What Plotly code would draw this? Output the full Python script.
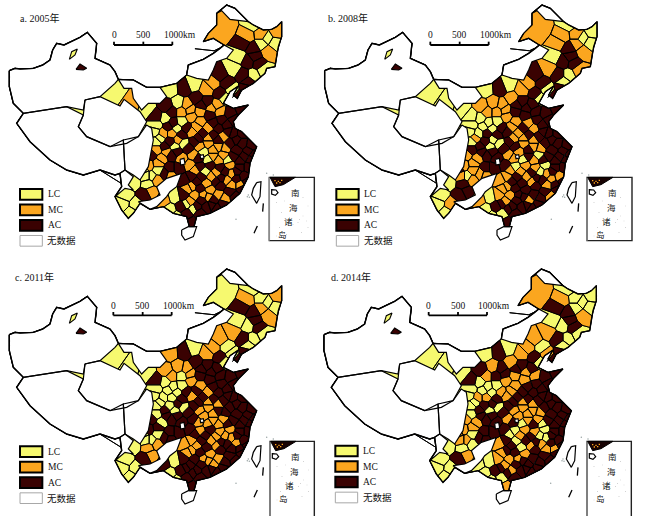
import plotly.graph_objects as go

# ---- panel content ----
PANEL_TITLES = ["a. 2005年", "b. 2008年", "c. 2011年", "d. 2014年"]
LEGEND_LABELS = ["LC", "MC", "AC", "无数据"]
SCALE_LABELS = ["0", "500", "1000km"]
SCS_LABELS = ["南", "海", "诸", "岛"]

# prefecture sites, with class L / M / A per year
SITE_X = [675,760,730,785,760,805,800,830,825,715,
          745,775,700,660,640,680,730,760,790,740,
          720,695,660,580,555,510,535,620,590,500,
          620,650,570,545,440,470,495,520,545,575,
          600,630,660,690,725,600,640,680,465,490,
          515,545,575,610,640,670,700,725,470,495,
          525,550,585,625,655,690,725,755,455,485,
          515,545,580,610,640,670,700,735,760,445,
          475,510,535,570,600,630,660,690,720,745,
          440,470,510,575,605,635,665,695,730,400,
          455,565,600,630,660,695,725,435,490,525,
          570,605,640,675,705,510,545,580,620,650,
          530,560,600,575,375,410,365,395,395,345,
          515,560,605,635,665,625,655,700,505,530,
          560,590,595,625,655,685,710,480,510,535,
          565,600,640,675,710,745,470,500,530,595,
          625,655,685,720,750,585,615,650,675,710,
          555,590,620,650,680,710,575,610,740,430,
          550,585,625,655,690,720,590,635,670,560,
          470,475,455,495,445,675,745,765,785,740]
SITE_Y = [85,70,128,105,145,155,115,95,130,170,
          185,190,205,225,250,250,225,225,210,265,
          290,270,280,255,265,268,310,270,295,320,
          305,315,330,335,325,350,355,370,365,350,
          335,345,335,340,325,365,370,375,395,400,
          400,405,395,400,405,410,400,400,425,440,
          440,430,425,430,440,430,430,435,465,475,
          465,475,465,455,470,465,470,470,465,495,
          510,505,505,495,500,495,505,495,500,500,
          530,540,525,530,530,530,535,520,530,545,
          575,565,565,570,555,555,565,585,600,590,
          605,600,600,595,590,630,620,625,620,625,
          650,640,640,670,585,615,610,640,310,275,
          335,315,315,325,360,385,385,360,380,385,
          385,380,415,415,420,395,420,415,425,420,
          445,440,450,445,450,455,450,455,455,475,
          480,480,480,485,478,510,515,518,515,515,
          540,545,550,545,540,535,560,585,545,505,
          585,585,590,585,575,555,620,615,612,612,
          375,490,530,520,550,295,245,170,130,110]
CLASS_2005 = ("MLAMAMLMLL" "AALAMAALLA" "ALALALLMAA" "AMMMLALALM" "MAMAAMAALM"
              "MAMAAMAALA" "LLAMMAAAAM" "AMMLMMAAAM" "LAAMAAAMAA" "LMMAAMAMAL"
              "MMAMAMAAML" "MAAMALALAA" "LAAALLLLML"
              "AMAMAMAAAL" "AMAMAAALAM" "AMMMAAMMAA" "LMLAAMLMAA" "AAMAMAMMAL" "AMMMAMAAAL" "LMLALLAALM")
CLASS_2008 = ("MLMMAMLLLL" "AAMAMAALMA" "ALALALMMMM" "AAMMLLLLLM" "AAAAAMMALL"
              "AAAMAAAALA" "LLAMMAAAMM" "AAMMALAAAM" "MAAALMMLAA" "MMMMAMAMML"
              "AMAAAMAAML" "MAMAMLAAAA" "LLAALMLLLL"
              "MMAAAAMALL" "AMMMMAAMAL" "AAAMAAAAAM" "LMAAAMMALA" "MAAMAMMAAA" "MMAAAAAAAA" "LMLMALLAMM")
CLASS_2011 = ("LLALAMLMLL" "LAMMMLALLA" "ALALAMMMAM" "AAMLLALLLM" "AAAAAMAALL"
              "LAMAAAAALA" "LLAMAAAAAL" "AAAMMMAAAA" "LAAAMAMMAA" "LMAMAMAMAL"
              "MMAMAAAAAL" "AAMAALAAAA" "LAAALLLLLL"
              "MMAAAMAALL" "AAAMMAALLA" "AMMAAALAAM" "MMAAAAAMMA" "MMAMAMMMAL" "AAMMAAAAAA" "LALAMLLAMM")
CLASS_2014 = ("MLALAMLLLL" "LAMMMLALLA" "AMALALMMMA" "AAAALALLLM" "MMMAAMAALM"
              "MAMAAAAALA" "LLAMMAAAMM" "AAMMMMAAAM" "LAAALMMLAA" "MLAALAALAL"
              "MMAMAMAALL" "MAAAALAAAA" "LLAMLLLLLL"
              "MAAMAAAALL" "MMAMMAALAA" "AMMMAALAAA" "LALAALMALA" "MALMMAAMAM" "MMAAAMMAAA" "LMMALLLALM")
PANEL_CLASSES = [CLASS_2005, CLASS_2008, CLASS_2011, CLASS_2014]

# outlines (crop units: 3 per pixel)
MAINLAND = [(28,212),(45,205),(60,207),(100,205),(128,195),(150,180),(158,150),(170,130),(192,135),(215,125),(240,112),(262,97),
            (278,115),(290,130),(285,175),(310,185),(330,195),(345,215),(355,238),(400,240),(440,262),(480,262),(530,250),(560,225),
            (565,195),(610,178),(640,160),(660,145),(672,135),(640,115),(610,125),(625,100),(650,75),(650,40),(680,15),(705,25),
            (720,40),(745,65),(760,75),(790,90),(815,88),(830,80),(845,65),(845,110),(835,140),(830,165),(825,200),(800,205),
            (795,220),(760,250),(725,270),(712,295),(700,285),(715,258),(690,275),(670,310),(700,325),(745,315),(715,345),(700,365),
            (705,385),(725,395),(740,410),(770,440),(760,465),(750,490),(745,530),(720,580),(680,615),(630,640),(590,650),(582,680),
            (568,680),(560,650),(520,640),(490,620),(450,628),(420,610),(400,640),(385,655),(365,630),(345,590),(365,560),(360,520),
            (345,525),(300,510),(250,525),(200,510),(150,480),(90,425),(50,370),(70,340),(60,330),(40,310),(28,260)]
NO_DATA_AREAS = [
    [(28,212),(45,205),(60,207),(100,205),(128,195),(150,180),(158,150),(170,130),(192,135),(215,125),(240,112),(262,97),(278,115),(290,130),(285,175),(310,185),(330,195),(345,215),(355,238),(345,250),(300,290),(255,300),(250,330),(200,320),(70,340),(60,330),(40,310),(28,260)],
    [(70,340),(200,320),(250,345),(235,380),(260,410),(330,440),(370,420),(375,510),(360,520),(345,525),(300,510),(250,525),(200,510),(150,480),(90,425),(50,370)],
    [(255,300),(300,290),(360,318),(372,298),(420,335),(440,365),(415,410),(380,430),(330,440),(260,410),(235,380),(250,345)],
    [(370,420),(415,410),(440,375),(455,385),(460,420),(445,500),(420,540),(400,525),(375,510)],
    [(360,520),(375,510),(400,530),(385,555),(400,570),(375,565),(345,590),(365,560)],
    [(415,605),(450,600),(480,585),(470,560),(500,535),(545,520),(530,560),(510,575),(500,590),(470,620),(450,628),(420,610)],
    [(355,238),(400,240),(440,262),(480,262),(500,290),(480,310),(445,310),(425,330),(400,295),(395,265),(372,265)],
    [(560,225),(565,195),(610,178),(640,160),(660,145),(672,135),(700,150),(680,175),(650,185),(640,210),(625,240),(590,235)],
    [(650,40),(680,15),(705,25),(720,40),(745,65),(720,62),(690,58),(665,32)],
    [(540,478),(552,475),(555,492),(542,495)],
    [(600,466),(610,464),(612,474),(602,476)],
    [(770,548),(783,545),(780,590),(770,610),(755,585),(760,565)],
    [(545,690),(565,680),(590,680),(580,710),(555,720),(545,705)],
]
LAKE_L = [(208,178),(215,155),(232,147),(225,165)]
LAKE_A = [(228,208),(240,192),(260,205),(250,210)]
SEA_DASHES = [[(790,610),(788,635)],[(772,678),(762,700)]]
SEA_DOTS_X = [745,748,708,800,820,742]
SEA_DOTS_Y = [585,592,658,520,525,590]

# inset wedge and its dots, relative to the inset box's top-left corner
INSET_LAND = [(2,0),(78,0),(42,22),(17,28)]
INSET_LAND_DOTS = [(15,8),(25,10),(35,7),(20,15),(30,14)]
INSET_ISLAND = [(7,37),(20,38),(26,46),(18,54),(7,50)]
INSET_DOTS = [(20,75),(45,70),(70,80),(100,60),(115,85),(35,105),(60,120),(90,125),(100,115),(110,130),(30,150),(70,140),(85,135),(115,150),(50,170),(95,165),(20,175)]
INSET_LABELS_POS = [(77,46),(72,93),(57,133),(40,172)]

COLORS = {"L": "#F6F96F", "M": "#FBA61F", "A": "#3A0202"}

# per-panel placement (crop units)
MAP_SHIFT = [(0,0),(-20,0),(0,18),(-22,18)]
TITLE_POS = [(53,55),(13,55),(38,57),(22,58)]
LEGEND_POS = [(60,567),(43,567),(60,565),(40,563)]
SCALE_POS = [(342,135),(325,135),(340,172),(320,172)]
INSET_BOX = [(808,532,943,722),(795,532,930,722),(810,550,943,790),(795,550,928,790)]
ORIGIN_PX = [(0,0),(322,0),(0,258),(322,258)]
FONT = "Liberation Serif, Noto Sans CJK SC"


def clip(poly, a, b, c):
    out = []
    n = len(poly)
    for i in range(n):
        p, q = poly[i], poly[(i + 1) % n]
        dp, dq = a*p[0]+b*p[1]-c, a*q[0]+b*q[1]-c
        if dp <= 0:
            out.append(p)
        if (dp < 0 < dq) or (dq < 0 < dp):
            t = dp / (dp - dq)
            out.append((p[0]+t*(q[0]-p[0]), p[1]+t*(q[1]-p[1])))
    return out


CELLS = []
for i, (xi, yi) in enumerate(zip(SITE_X, SITE_Y)):
    cell = list(MAINLAND)
    for j, (xj, yj) in enumerate(zip(SITE_X, SITE_Y)):
        if i == j:
            continue
        a, b = xj-xi, yj-yi
        c = (xj*xj+yj*yj-xi*xi-yi*yi)/2
        cell = clip(cell, a, b, c)
        if not cell:
            break
    CELLS.append(cell)


def path(polys, dx, dy):
    xs, ys = [], []
    for poly in polys:
        xs += [p[0]+dx for p in poly] + [poly[0][0]+dx, None]
        ys += [p[1]+dy for p in poly] + [poly[0][1]+dy, None]
    return xs, ys


fig = go.Figure()
W, H = 645, 516
layout = dict(width=W, height=H, margin=dict(l=0, r=0, t=0, b=0), plot_bgcolor="white",
              paper_bgcolor="white", showlegend=False)
shapes, annos = [], []

for k in range(4):
    ox, oy = ORIGIN_PX[k]
    s = "" if k == 0 else str(k+1)
    layout["xaxis"+s] = dict(domain=[ox/W, (ox+322)/W], range=[0, 966], visible=False, fixedrange=True, anchor="y"+s)
    layout["yaxis"+s] = dict(domain=[1-(oy+258)/H, 1-oy/H], range=[774, 0], visible=False, fixedrange=True, anchor="x"+s)
    xr, yr = "x"+s, "y"+s
    dx, dy = MAP_SHIFT[k]

    def fill(polys, color, lw=1.0, line="black"):
        xs, ys = path(polys, dx, dy)
        fig.add_trace(go.Scatter(x=xs, y=ys, mode="lines", fill="toself", fillcolor=color,
                                 line=dict(color=line, width=lw), hoverinfo="skip", xaxis=xr, yaxis=yr))

    fill([MAINLAND], "white")
    for code in "LMA":
        polys = [c for c, v in zip(CELLS, PANEL_CLASSES[k]) if v == code and c]
        fill(polys, COLORS[code], 1.0)
    fill(NO_DATA_AREAS, "white", 1.2)
    fill([LAKE_L], COLORS["L"], 1.1)
    fill([LAKE_A], COLORS["A"], 1.1)
    xs, ys = path([MAINLAND], dx, dy)
    fig.add_trace(go.Scatter(x=xs, y=ys, mode="lines", line=dict(color="black", width=1.4),
                             hoverinfo="skip", xaxis=xr, yaxis=yr))
    for d in SEA_DASHES:
        fig.add_trace(go.Scatter(x=[p[0]+dx for p in d], y=[p[1]+dy for p in d], mode="lines",
                                 line=dict(color="black", width=1.3), hoverinfo="skip", xaxis=xr, yaxis=yr))
    fig.add_trace(go.Scatter(x=[v+dx for v in SEA_DOTS_X], y=[v+dy for v in SEA_DOTS_Y], mode="markers",
                             marker=dict(color="#9aa5a5", size=1.5), hoverinfo="skip", xaxis=xr, yaxis=yr))

    # title
    tx, ty = TITLE_POS[k]
    annos.append(dict(x=tx, y=ty, xref=xr, yref=yr, text=PANEL_TITLES[k], showarrow=False, xanchor="left",
                      font=dict(family=FONT, size=10, color="#111")))

    # scale bar
    sx, sy = SCALE_POS[k]
    ticks = [0, 88, 175]
    xs = [sx, sx, None, sx+88, sx+88, None, sx+175, sx+175, None, sx, sx+175]
    ys = [sy-10, sy, None, sy-10, sy, None, sy-10, sy, None, sy, sy]
    fig.add_trace(go.Scatter(x=xs, y=ys, mode="lines", line=dict(color="black", width=1.8),
                             hoverinfo="skip", xaxis=xr, yaxis=yr))
    for t, lab, anc in zip(ticks, SCALE_LABELS, ["center", "center", "left"]):
        annos.append(dict(x=sx+t-(32 if anc == "left" else 0), y=sy-29, xref=xr, yref=yr, text=lab, showarrow=False,
                          xanchor=anc, font=dict(family=FONT, size=9.5, color="#111")))

    # legend
    lx, ly = LEGEND_POS[k]
    for i, (lab, key) in enumerate(zip(LEGEND_LABELS, ["L", "M", "A", None])):
        y0 = ly + i*46.5
        shapes.append(dict(type="rect", xref=xr, yref=yr, x0=lx, x1=lx+67, y0=y0, y1=y0+32,
                           fillcolor=COLORS[key] if key else "white",
                           line=dict(color="black" if key else "#a8a8a8", width=2 if key else 1)))
        annos.append(dict(x=lx+(78 if key else 76), y=y0+16, xref=xr, yref=yr, text=lab, showarrow=False, xanchor="left",
                          font=dict(family=FONT, size=9.5, color="#111")))

    # South China Sea inset
    bx0, by0, bx1, by1 = INSET_BOX[k]
    shapes.append(dict(type="rect", xref=xr, yref=yr, x0=bx0, x1=bx1, y0=by0, y1=by1, fillcolor="white",
                       line=dict(color="#222", width=1.4), layer="above"))
    shapes.append(dict(type="line", xref=xr, yref=yr, x0=bx0, x1=bx0, y0=by0, y1=by1,
                       line=dict(color="#8c8c8c", width=1.4), layer="above"))
    land = [(bx0+p[0], by0+p[1]) for p in INSET_LAND]
    shapes.append(dict(type="path", xref=xr, yref=yr, layer="above",
                       path="M " + " L ".join(f"{p[0]},{p[1]}" for p in land) + " Z",
                       fillcolor="#170202", line=dict(color="black", width=1)))
    isl = [(bx0+p[0], by0+p[1]) for p in INSET_ISLAND]
    shapes.append(dict(type="path", xref=xr, yref=yr, layer="above",
                       path="M " + " L ".join(f"{p[0]},{p[1]}" for p in isl) + " Z",
                       fillcolor="white", line=dict(color="black", width=1.2)))
    for p in INSET_LAND_DOTS:
        shapes.append(dict(type="rect", xref=xr, yref=yr, layer="above", x0=bx0+p[0], x1=bx0+p[0]+4, y0=by0+p[1],
                           y1=by0+p[1]+4, fillcolor=COLORS["M"], line=dict(width=0)))
    for p in INSET_DOTS:
        shapes.append(dict(type="rect", xref=xr, yref=yr, layer="above", x0=bx0+p[0], x1=bx0+p[0]+2, y0=by0+p[1],
                           y1=by0+p[1]+2, fillcolor="#a8a8a8", line=dict(width=0)))
    for lab, p in zip(SCS_LABELS, INSET_LABELS_POS):
        annos.append(dict(x=bx0+p[0], y=by0+p[1], xref=xr, yref=yr, text=lab, showarrow=False,
                          font=dict(family=FONT, size=8.5, color="#111")))

layout["shapes"] = shapes
layout["annotations"] = annos
fig.update_layout(**layout)
fig.write_html("out.html", config={"displayModeBar": False}, post_script="document.body.style.margin='0';")
